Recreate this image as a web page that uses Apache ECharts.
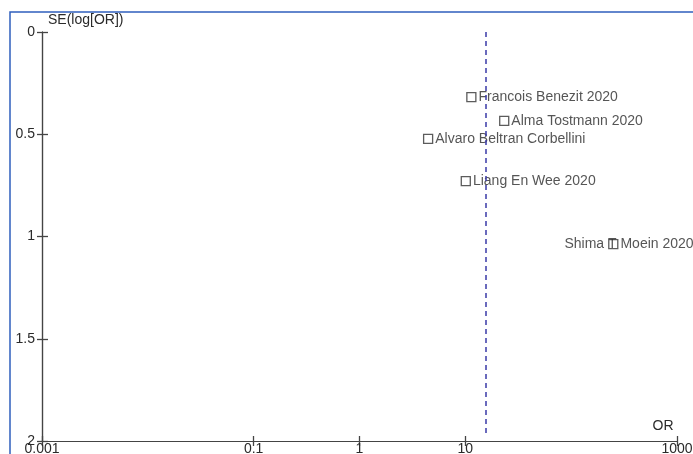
<!DOCTYPE html>
<html><head><meta charset="utf-8">
<script src="https://cdn.jsdelivr.net/npm/echarts@6/dist/echarts.min.js"></script>
<style>html,body{margin:0;padding:0;background:#fff}#c{width:693px;height:454px}</style>
</head><body><div id="c"></div>
<script>
const studies = ['Francois Benezit 2020','Alma Tostmann 2020','Alvaro Beltran Corbellini','Liang En Wee 2020','Shima T Moein 2020'];
const oddsRatios = [11.4, 23.3, 4.45, 10.1, 250];
const standardErrors = [0.318, 0.435, 0.523, 0.729, 1.037];
const pooledOR = 15.5;
const xTickValues = [0.001, 0.1, 1, 10, 1000];
const xTickLabels = ['0.001','0.1','1','10','1000'];
const yTickValues = [0, 0.5, 1, 1.5, 2];

const lg = v => Math.log10(v);
const xTicksLog = xTickValues.map(lg);
const labelFor = v => {
  for (let i = 0; i < xTicksLog.length; i++) if (Math.abs(xTicksLog[i] - v) < 1e-6) return xTickLabels[i];
  return '';
};
const points = studies.map((s, i) => {
  const p = {name: s, value: [lg(oddsRatios[i]), standardErrors[i]]};
  if (i === 4) p.label = {offset: [-56, 0]};
  return p;
});

const axisColor = '#444';
const textColor = '#2a2a2a';
const font = 'Liberation Sans, Arial, sans-serif';
const tickStyle = {color: axisColor, width: 1.3};
const lineStyle = {color: axisColor, width: 1.2};
const gridBox = {left: 42, right: 16, top: 32, bottom: 13, containLabel: false, outerBoundsMode: 'none'};

const chart = echarts.init(document.getElementById('c'), null, {renderer: 'canvas'});
chart.setOption({
  animation: false,
  backgroundColor: '#fff',
  grid: [Object.assign({}, gridBox), Object.assign({}, gridBox)],
  graphic: [{
    type: 'polyline', silent: true, z: 0,
    shape: {points: [[10, 460], [10, 12], [700, 12]]},
    style: {stroke: '#2f5fbd', lineWidth: 1.5, fill: null}
  }],
  xAxis: [{
    gridIndex: 0, type: 'value', min: -3, max: 3, interval: 1, position: 'bottom',
    splitLine: {show: false},
    axisLine: {onZero: false, lineStyle: lineStyle},
    axisTick: {show: true, length: 5, lineStyle: tickStyle, customValues: xTicksLog},
    axisLabel: {customValues: xTicksLog, formatter: labelFor, margin: 1, color: textColor, fontSize: 14, fontFamily: font},
    name: 'OR', nameLocation: 'end', nameGap: -14,
    nameTextStyle: {color: textColor, fontSize: 14, fontFamily: font, align: 'center', verticalAlign: 'bottom', padding: [0, 0, 8, 0]}
  }, {
    gridIndex: 1, type: 'value', min: -3, max: 3, interval: 1, position: 'bottom',
    splitLine: {show: false}, axisLine: {show: true, onZero: false, lineStyle: lineStyle},
    axisLabel: {show: false},
    axisTick: {show: true, inside: true, length: 5, lineStyle: tickStyle, customValues: xTicksLog}
  }],
  yAxis: [{
    gridIndex: 0, type: 'value', min: 0, max: 2, interval: 0.5, inverse: true, position: 'left',
    splitLine: {show: false},
    axisLine: {onZero: false, lineStyle: lineStyle},
    axisTick: {show: true, length: 5, lineStyle: tickStyle},
    axisLabel: {margin: 7, color: textColor, fontSize: 14, fontFamily: font, padding: [0, 0, 6, 0]},
    name: 'SE(log[OR])', nameLocation: 'start', nameGap: 5,
    nameTextStyle: {color: textColor, fontSize: 14, fontFamily: font, align: 'left', verticalAlign: 'bottom', padding: [0, 0, 0, 6]}
  }, {
    gridIndex: 1, type: 'value', min: 0, max: 2, interval: 0.5, inverse: true, position: 'left', z: 10,
    splitLine: {show: false}, axisLine: {show: true, onZero: false, lineStyle: lineStyle},
    axisLabel: {show: false},
    axisTick: {show: true, inside: true, length: 6, lineStyle: tickStyle}
  }],
  series: [{
    type: 'scatter',
    xAxisIndex: 0, yAxisIndex: 0,
    symbol: 'rect', symbolSize: 9,
    itemStyle: {color: 'rgba(0,0,0,0)', borderColor: '#333', borderWidth: 1.3},
    label: {show: true, position: 'right', distance: 2, formatter: '{b}', color: textColor, fontSize: 14, fontFamily: font},
    data: points
  }, {
    type: 'line',
    xAxisIndex: 1, yAxisIndex: 1,
    data: [],
    markLine: {
      silent: true, symbol: 'none',
      label: {show: false},
      lineStyle: {color: '#3a3aa8', type: [5, 4], width: 1.5},
      data: [[{coord: [lg(pooledOR), 0]}, {coord: [lg(pooledOR), 1.98]}]]
    }
  }]
});
</script>
</body></html>
